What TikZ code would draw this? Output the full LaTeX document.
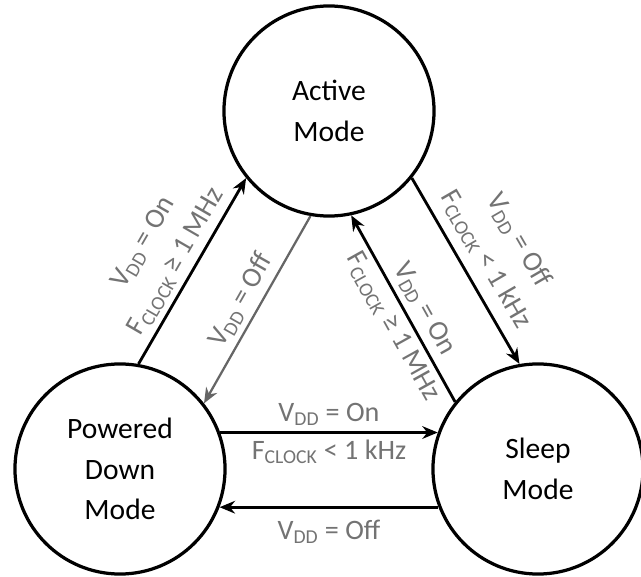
\documentclass[tikz,border=0pt]{standalone}
\usepackage{fontspec}
\setmainfont{Carlito}
\usetikzlibrary{arrows.meta}

\begin{document}
\begin{tikzpicture}[x=0.025cm, y=-0.025cm,
	mode/.style={circle, draw, line width=2.3pt, minimum size=5.25cm, inner sep=0pt, align=center, font=\fontsize{21}{29}\selectfont},
	trans/.style={line width=2pt, -{Stealth[length=11pt, width=9pt]}},
	cond/.style={text=black!55, font=\fontsize{20}{27}\selectfont, align=center, inner sep=4pt}]
		
		\useasboundingbox (0,0) rectangle (641,577);
		
		%Modes
		\node (activeMode) at (329,111) [mode]{Active\\Mode};
		\node (poweredDownMode) at (120,469) [mode]{Powered\\Down\\Mode};
		\node (sleepMode) at (538,469) [mode]{Sleep\\Mode};
		
		%Powered down to active and back
		\draw [trans] (poweredDownMode.80) -- (activeMode.219) node[midway, sloped, above, cond]{V\textsubscript{DD} = On\\F\textsubscript{CLOCK} ≥ 1 MHz};
		\draw [trans, draw=black!60, line width=1.6pt] (activeMode.260) -- (poweredDownMode.38) node[midway, sloped, above, cond]{V\textsubscript{DD} = Off};
		
		%Sleep to active and back
		\draw [trans] (sleepMode.141) -- (activeMode.-78) node[pos=0.45, sloped, above, cond]{V\textsubscript{DD} = On} node[pos=0.45, sloped, below, cond]{F\textsubscript{CLOCK} ≥ 1 MHz};
		\draw [trans] (activeMode.-39) -- (sleepMode.100) node[midway, sloped, above, cond, inner sep=7pt]{V\textsubscript{DD} = Off\\F\textsubscript{CLOCK} < 1 kHz};
		
		%Powered down to sleep and back
		\draw [trans] (poweredDownMode.20) -- (sleepMode.160) node[midway, above, cond]{V\textsubscript{DD} = On} node[midway, below, cond]{F\textsubscript{CLOCK} < 1 kHz};
		\draw [trans] (sleepMode.-159) -- (poweredDownMode.-21) node[midway, below, cond, inner sep=8pt]{V\textsubscript{DD} = Off};
		
\end{tikzpicture}
\end{document}
